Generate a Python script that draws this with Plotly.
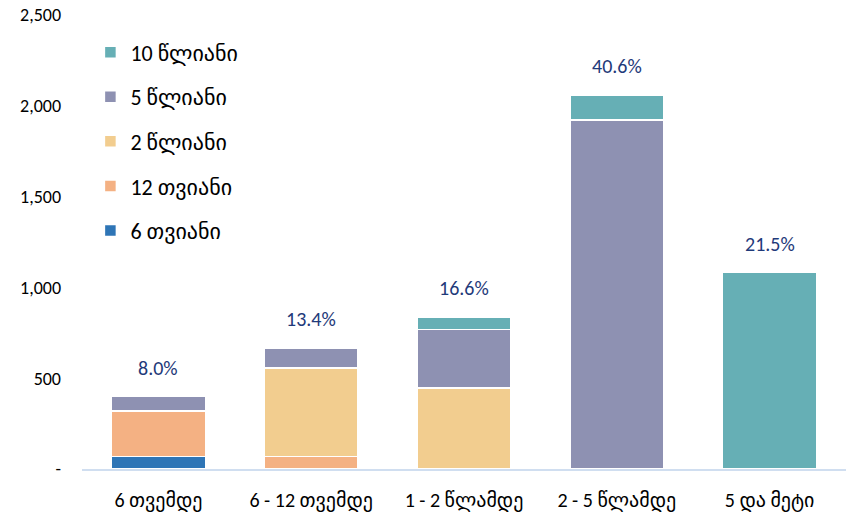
import plotly.graph_objects as go

# categories (maturity buckets) and stacked series values
categories = ["6 თვემდე", "6 - 12 თვემდე", "1 - 2 წლამდე", "2 - 5 წლამდე", "5 და მეტი"]

series_names = ["6 თვიანი", "12 თვიანი", "2 წლიანი", "5 წლიანი", "10 წლიანი"]
m6 = [70, 0, 0, 0, 0]
m12 = [250, 70, 0, 0, 0]
y2 = [0, 485, 445, 0, 0]
y5 = [78, 110, 324, 1923, 0]
y10 = [0, 0, 66, 137, 1082]

share_labels = ["8.0%", "13.4%", "16.6%", "40.6%", "21.5%"]

y_tickvals = [0, 500, 1000, 1500, 2000, 2500]
y_ticktext = ["-", "500", "1,000", "1,500", "2,000", "2,500"]

colors = ["#2E75B6", "#F4B183", "#F2CD8F", "#8E91B2", "#66AFB5"]

FONT = "Calibri, Lato, 'DejaVu Sans', sans-serif"

fig = go.Figure()

for i, (name, vals, col) in enumerate(zip(series_names, [m6, m12, y2, y5, y10], colors)):
    fig.add_trace(go.Bar(
        x=categories, y=vals, name=name,
        marker=dict(color=col, line=dict(color="white", width=1.5)),
        legendgroup=name,
        legendrank=len(series_names) - i,  # 10 წლიანი on top
    ))

totals = [a + b + c + d + e for a, b, c, d, e in zip(m6, m12, y2, y5, y10)]
for cat, tot, lab in zip(categories, totals, share_labels):
    fig.add_annotation(
        x=cat, y=tot, text=lab, showarrow=False,
        yanchor="middle", yshift=29,
        font=dict(size=20, color="#1F3A7A", family=FONT),
    )

fig.update_layout(
    barmode="stack",
    bargap=0.385,
    width=846, height=519,
    margin=dict(l=82, r=0, t=15, b=50),
    paper_bgcolor="white",
    plot_bgcolor="white",
    font=dict(family=FONT, color="#000000"),
    showlegend=True,
    legend=dict(
        x=0.011, y=0.964, xanchor="left", yanchor="top",
        traceorder="grouped",
        tracegroupgap=13,
        font=dict(size=22, family=FONT, color="#000000"),
        bgcolor="rgba(0,0,0,0)",
    ),
    xaxis=dict(
        showgrid=False, zeroline=False, automargin=False,
        showline=True, linecolor="#D0DEF0", linewidth=2,
        ticks="", ticklabelstandoff=12,
        tickfont=dict(size=20, family=FONT, color="#000000"),
    ),
    yaxis=dict(
        range=[0, 2500], automargin=False,
        tickvals=y_tickvals, ticktext=y_ticktext,
        showgrid=False, zeroline=False, showline=False,
        ticks="", ticklabelstandoff=20,
        tickfont=dict(size=18, family=FONT, color="#000000"),
    ),
)

# page body has a default 8px margin; drop it so the figure fills the window
fig.write_html(
    "out.html",
    config={"displayModeBar": False},
    post_script="document.body.style.margin='0';",
)
